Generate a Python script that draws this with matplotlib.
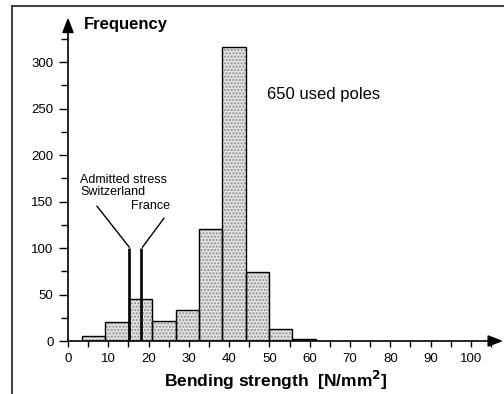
import matplotlib
matplotlib.use("Agg")
import matplotlib.pyplot as plt
from matplotlib.lines import Line2D
from matplotlib.ticker import MultipleLocator

plt.rcParams['font.family'] = ['Liberation Sans', 'DejaVu Sans']

# histogram of bending strength (bin edges and counts)
bin_edges = [3.5, 9.3, 15.1, 20.9, 26.7, 32.5, 38.3, 44.1, 49.9, 55.7, 61.5]
counts = [5, 20, 45, 21, 33, 121, 316, 74, 13, 2]

# admitted stress markers
stress_names = ['Switzerland', 'France']
stress_values = [15.2, 18.1]
stress_height = 100

x_ticks = [0, 10, 20, 30, 40, 50, 60, 70, 80, 90, 100]
y_ticks = [0, 50, 100, 150, 200, 250, 300]

fig = plt.figure(figsize=(5.04, 3.94), dpi=100)
ax = fig.add_axes([68 / 504, 53 / 394, 427 / 504, 316 / 394])

widths = [b - a for a, b in zip(bin_edges[:-1], bin_edges[1:])]
# dotted fill first, then black outline on top
ax.bar(bin_edges[:-1], counts, width=widths, align='edge',
       color='#e2e2e2', edgecolor='#8f8f8f', hatch='.....', linewidth=0, zorder=2)
ax.bar(bin_edges[:-1], counts, width=widths, align='edge',
       fill=False, edgecolor='black', linewidth=1.0, zorder=3)

# admitted stress lines
for v in stress_values:
    ax.plot([v, v], [0, stress_height], color='black', lw=1.9, zorder=4,
            solid_capstyle='butt')

ax.set_xlim(0, 106)
ax.set_ylim(0, 340)
for s in ax.spines.values():
    s.set_visible(False)

# axes drawn as arrows
ax.annotate('', xy=(108, 0), xytext=(0, 0), annotation_clip=False,
            arrowprops=dict(arrowstyle='-|>,head_length=0.9,head_width=0.35',
                            color='black', lw=1.2, shrinkA=0, shrinkB=0))
ax.annotate('', xy=(0, 348), xytext=(0, 0), annotation_clip=False,
            arrowprops=dict(arrowstyle='-|>,head_length=0.9,head_width=0.35',
                            color='black', lw=1.2, shrinkA=0, shrinkB=0))

ax.set_xticks(x_ticks)
ax.set_yticks(y_ticks)
ax.xaxis.set_minor_locator(MultipleLocator(5))
ax.yaxis.set_minor_locator(MultipleLocator(25))
ax.tick_params(axis='x', which='both', direction='out', length=4, width=1,
               pad=5, labelsize=9.5)
ax.tick_params(axis='y', which='major', direction='out', length=6.5, width=1,
               pad=4, labelsize=9.5)
ax.tick_params(axis='y', which='minor', direction='out', length=5, width=1)

ax.text(4, 336, 'Frequency', fontsize=12, fontweight='bold', ha='left',
        va='baseline')
ax.text(51.6, -49, 'Bending strength  [N/mm$^{\\mathbf{2}}$]', fontsize=12.5,
        fontweight='bold', ha='center', va='baseline')

ax.text(49.4, 260, '650 used poles', fontsize=12, ha='left', va='baseline')

ax.text(3.0, 170, 'Admitted stress', fontsize=9, ha='left', va='baseline')
ax.text(3.0, 157, stress_names[0], fontsize=9, ha='left', va='baseline')
ax.text(15.6, 142, stress_names[1], fontsize=9, ha='left', va='baseline')
ax.plot([7.2, stress_values[0]], [145, stress_height + 1], color='black', lw=1, zorder=4)
ax.plot([23.8, stress_values[1] + 0.4], [132, stress_height + 1], color='black', lw=1, zorder=4)

# figure border (left and top visible)
fig.add_artist(Line2D([12 / 504, 12 / 504], [0, 1 - 6 / 394],
                      transform=fig.transFigure, color='#444444', lw=1.5))
fig.add_artist(Line2D([12 / 504, 1], [1 - 6 / 394, 1 - 6 / 394],
                      transform=fig.transFigure, color='#444444', lw=1.5))

fig.savefig('out.png', dpi=100)
